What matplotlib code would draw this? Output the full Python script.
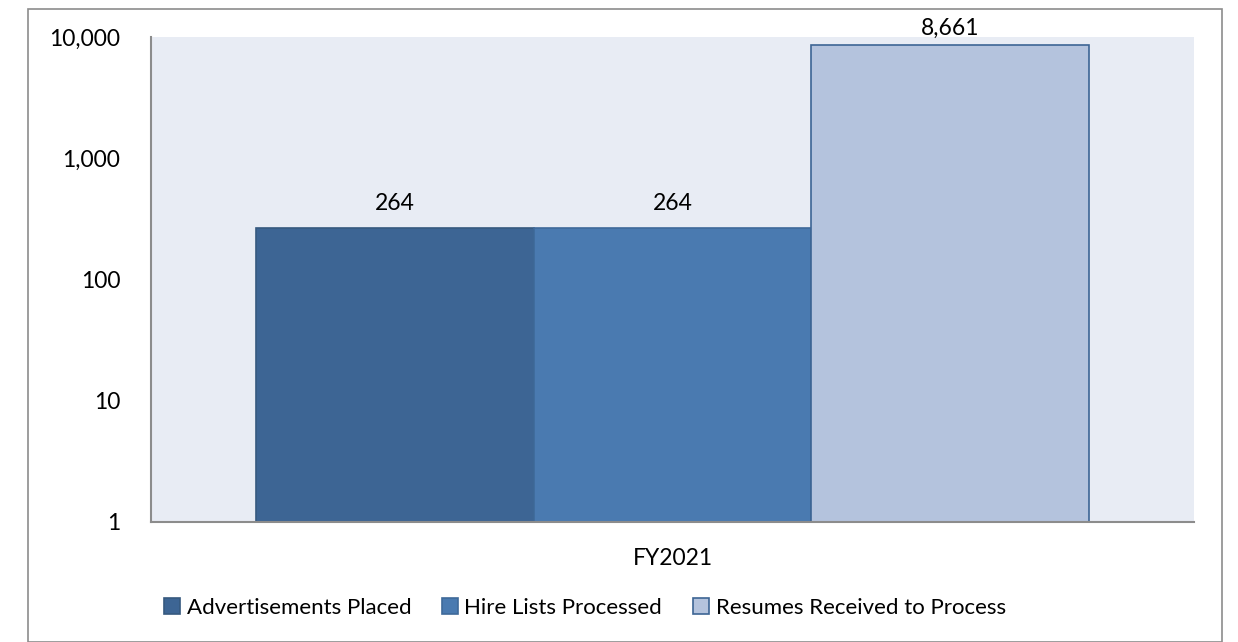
import matplotlib.pyplot as plt
from matplotlib.patches import Rectangle

categories = ["FY2021"]
series = ["Advertisements Placed", "Hire Lists Processed", "Resumes Received to Process"]
values = [264, 264, 8661]
colors = ["#3d6594", "#4a7ab0", "#b4c3dd"]
edges = ["#36597f", "#3f6a9a", "#3d6594"]
y_ticks = [1, 10, 100, 1000, 10000]
y_labels = ["1", "10", "100", "1,000", "10,000"]

plt.rcParams['font.family'] = ['Lato', 'DejaVu Sans']

fig = plt.figure(figsize=(12.38, 6.42), dpi=100)
fig.patches.append(Rectangle((28 / 1238, 0), (1222 - 28) / 1238, 1 - 9 / 642,
                             transform=fig.transFigure, fill=False,
                             edgecolor="#8c8c8c", linewidth=1.2))

ax = fig.add_axes([151 / 1238, 1 - 522 / 642, (1194 - 151) / 1238, (522 - 37) / 642])
ax.set_facecolor("#e8ecf4")

width = 0.266
offsets = [-width, 0, width]
for i in range(len(series)):
    ax.bar(offsets[i], values[i], width=width, bottom=1, color=colors[i],
           edgecolor=edges[i], linewidth=1.2, label=series[i])
    # labels sit above the bar, but not past the top of the chart
    ax.text(offsets[i], min(values[i] * 1.6, 11750), f"{values[i]:,}", ha="center",
            va="center", fontsize=16.5, clip_on=False)

ax.set_yscale("log")
ax.set_ylim(1, 10000)
ax.set_xlim(-0.5, 0.5)
ax.set_yticks(y_ticks)
ax.set_yticklabels(y_labels, fontsize=16.5)
ax.minorticks_off()
ax.set_xticks([0])
ax.set_xticklabels(categories, fontsize=16.5)
ax.tick_params(axis="y", length=0, pad=22)
ax.tick_params(axis="x", length=0, pad=19)
for s in ["top", "right"]:
    ax.spines[s].set_visible(False)
for s in ["left", "bottom"]:
    ax.spines[s].set_color("#8c8c8c")
    ax.spines[s].set_linewidth(1.5)

fig.legend(*ax.get_legend_handles_labels(), loc="center",
           bbox_to_anchor=(585 / 1238, 1 - 608 / 642), ncol=3, frameon=False,
           fontsize=16, handlelength=0.7, handleheight=0.7, handletextpad=0.3,
           columnspacing=1.4)

fig.savefig("out.png", dpi=100)
